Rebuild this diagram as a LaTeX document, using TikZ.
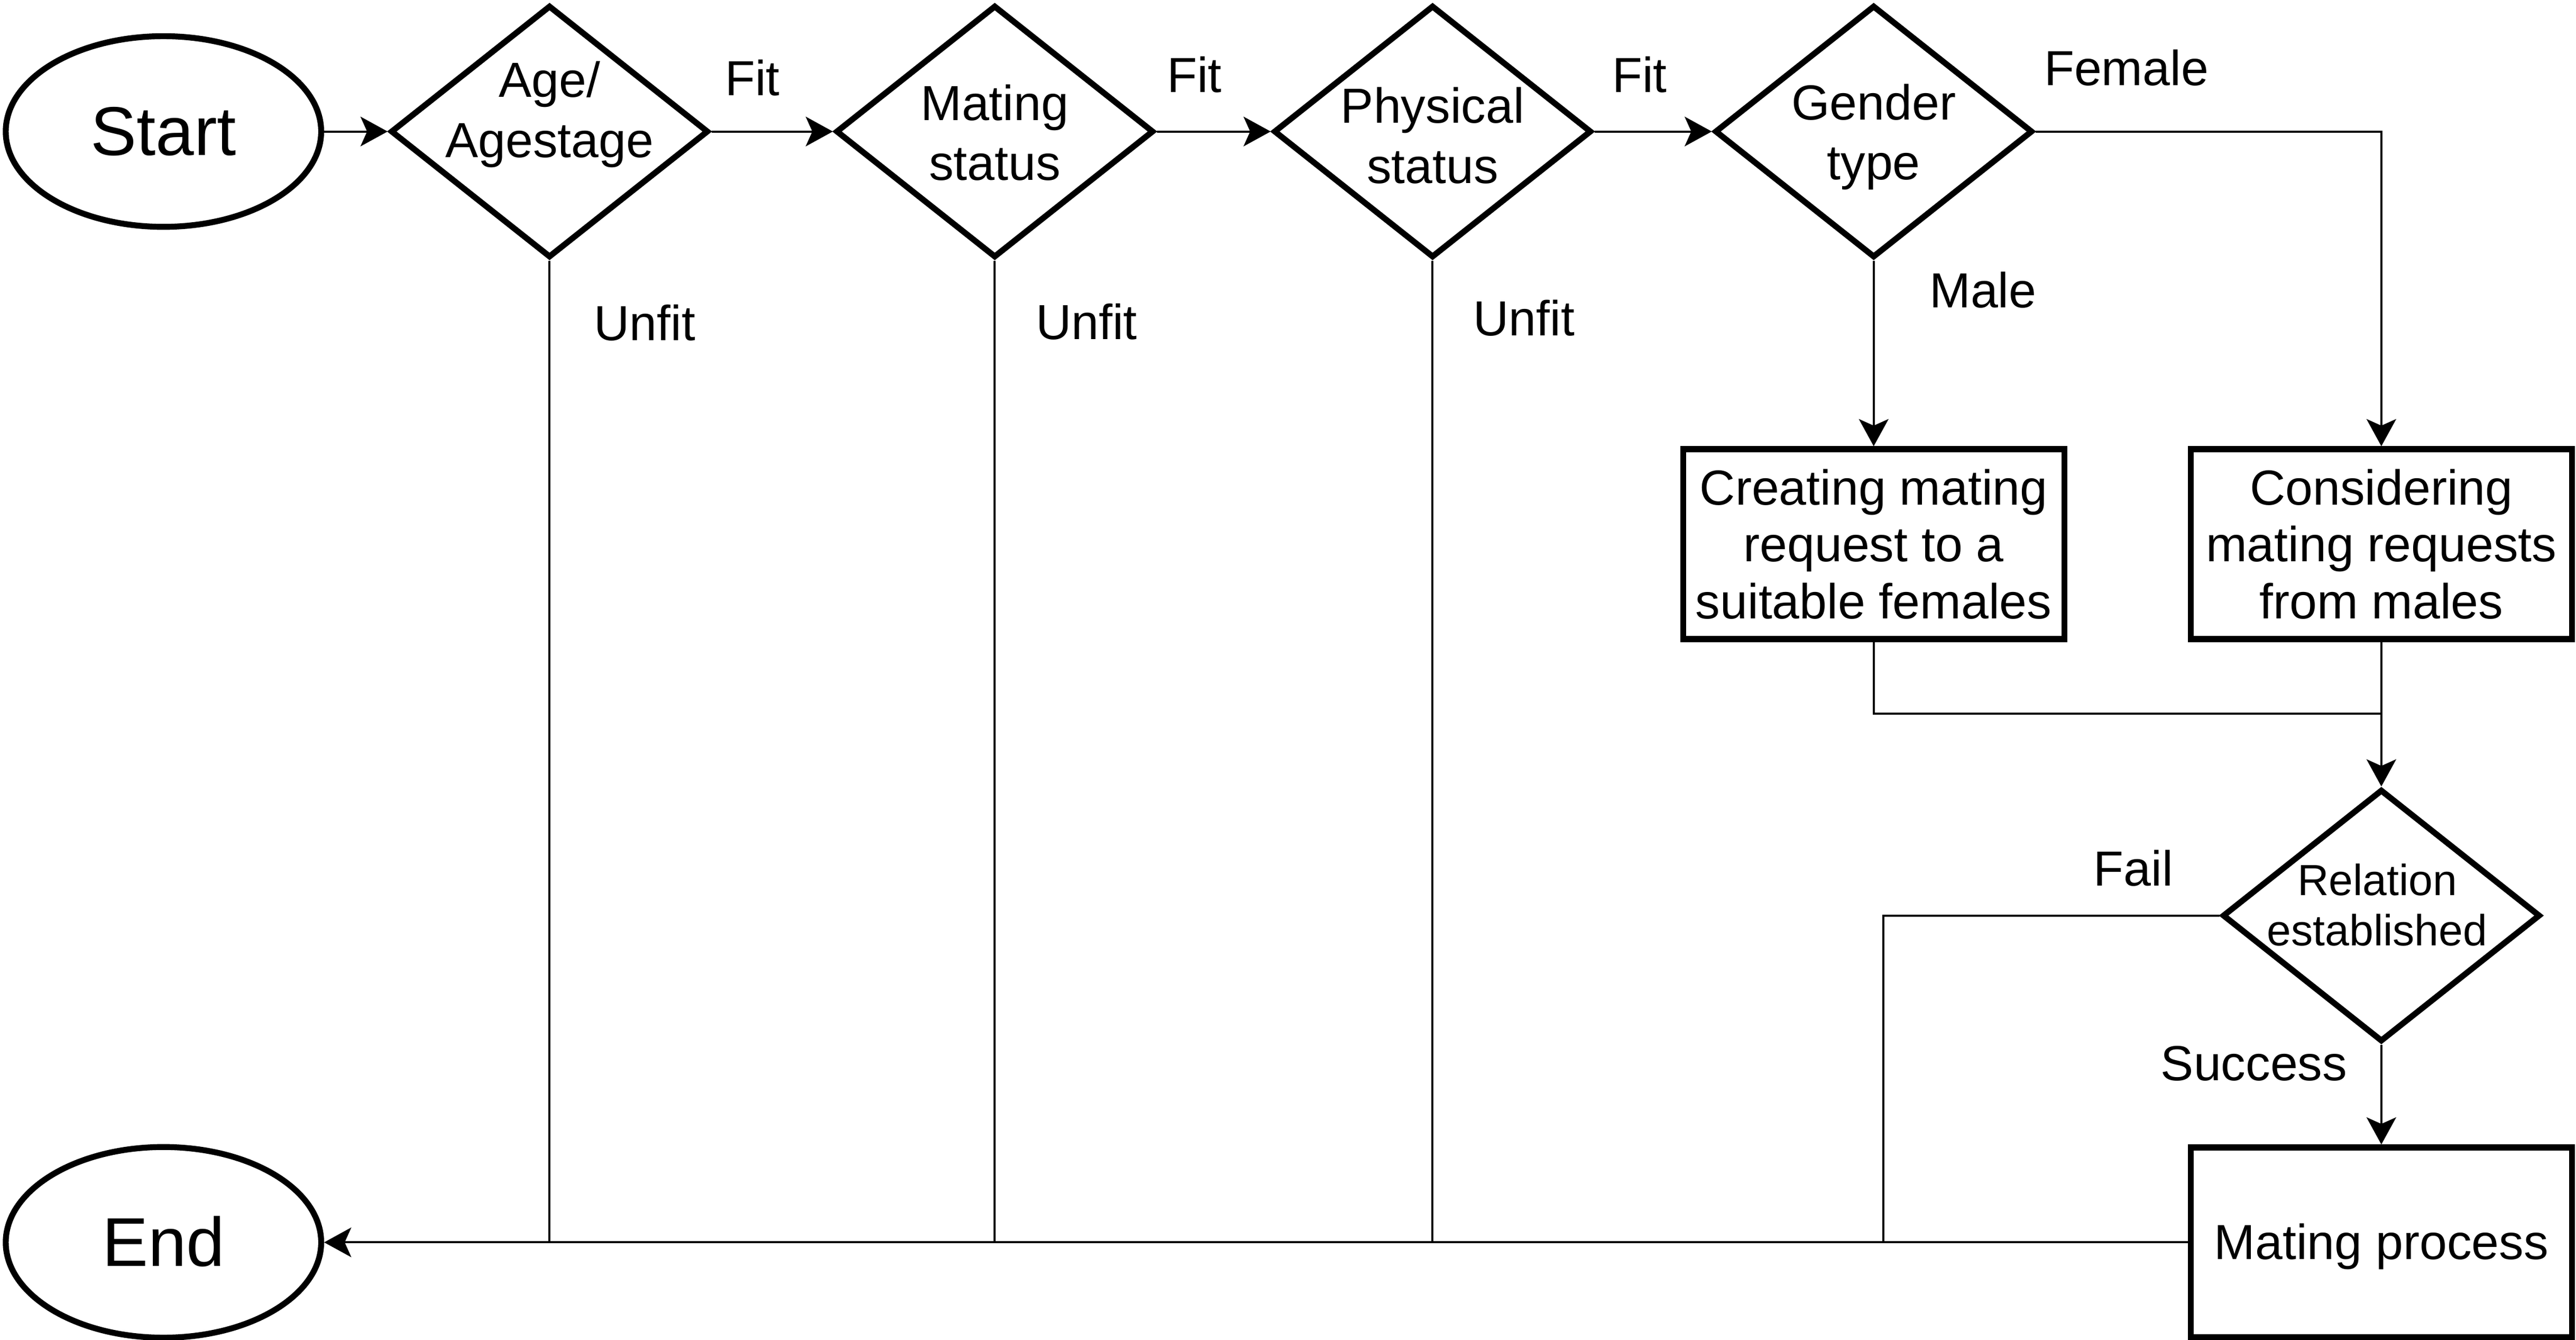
\documentclass[tikz,border=0pt]{standalone}
\usepackage{fontspec}
\setmainfont{Liberation Sans}
\usetikzlibrary{shapes.geometric,arrows.meta}
\begin{document}
\begin{tikzpicture}[x=1pt,y=-1pt,
  shapeline/.style={draw=black, line width=3.6pt},
  term/.style={shapeline, ellipse, minimum width=192pt, minimum height=116pt, inner sep=0pt,
    font=\fontsize{42}{48}\selectfont, text height=38pt, text depth=8.9pt},
  dec/.style={shapeline, diamond, minimum width=193.5pt, minimum height=153.5pt, inner sep=0pt},
  proc/.style={shapeline, rectangle, minimum width=232pt, minimum height=115.5pt, inner sep=0pt,
    align=center, font=\fontsize{30}{34.5}\selectfont},
  dtext/.style={align=center, inner sep=0pt, font=\fontsize{30}{36.5}\selectfont},
  conn/.style={line width=1.3pt},
  arr/.style={conn, -{Stealth[length=16.5pt, width=18pt, inset=4pt]}},
  lbl/.style={anchor=base, inner sep=0pt, font=\fontsize{30}{36}\selectfont},
]
\useasboundingbox (0,0) rectangle (1568,814.9);

% terminals
\node[term] (start) at (99.5,80) {Start};
\node[term] (end) at (99.5,755.8) {End};

% decisions
\node[dec] (d1) at (334.5,80) {};
\node[dec] (d2) at (605.5,80) {};
\node[dec] (d3) at (872,80) {};
\node[dec] (d4) at (1140.5,80) {};
\node[dec] (d5) at (1449.5,557) {};

\node[dtext] (d1t) at (334.5,69.7) {Age/\\Agestage};
\node[dtext] (d2t) at (605.5,80.7) {Mating\\status};
\node[dtext] (d3t) at (872,82.5) {Physical\\status};
\node[dtext] (d4t) at (1140.5,83.4) {Gender\\type};
\node[dtext, font=\fontsize{26.5}{30.3}\selectfont] (d5t) at (1447,550.5) {Relation\\established};

% processes
\node[proc] (creat) at (1140.5,331) {Creating mating\\request to a\\suitable females};
\node[proc] (cons) at (1449.5,331) {Considering\\mating requests\\from males};
\node[proc, text height=27.15pt, text depth=6.36pt] (mating) at (1449.5,755.8) {Mating process};

\coordinate (join) at (1449.5,434);
\coordinate (failc) at (1146.4,755.8);

% connectors
\draw[arr] (start.east) -- (d1.west);
\draw[arr] (d1.east) -- (d2.west);
\draw[arr] (d2.east) -- (d3.west);
\draw[arr] (d3.east) -- (d4.west);
\draw[arr] (d4.east) -| (cons.north);
\draw[arr] (d4.south) -- (creat.north);
\draw[conn] (creat.south) |- (join);
\draw[arr] (cons.south) -- (d5.north);
\draw[conn] (d5.west) -| (failc);
\draw[arr] (d5.south) -- (mating.north);
\draw[arr] (mating.west) -- (end.east);
\draw[conn] (d1.south) -- (d1.south |- mating.west);
\draw[conn] (d2.south) -- (d2.south |- mating.west);
\draw[conn] (d3.south) -- (d3.south |- mating.west);

% labels
\node[lbl] (fit1) at (458,58) {Fit};
\node[lbl] (fit2) at (727,56) {Fit};
\node[lbl] (fit3) at (998,56) {Fit};
\node[lbl] (female) at (1294.3,52) {Female};
\node[lbl] (male) at (1207,187) {Male};
\node[lbl] (unfit1) at (392.4,207) {Unfit};
\node[lbl] (unfit2) at (661.4,206.5) {Unfit};
\node[lbl] (unfit3) at (927.6,204.3) {Unfit};
\node[lbl] (fail) at (1298.6,538.8) {Fail};
\node[lbl] (success) at (1372,657.4) {Success};
\end{tikzpicture}
\end{document}
